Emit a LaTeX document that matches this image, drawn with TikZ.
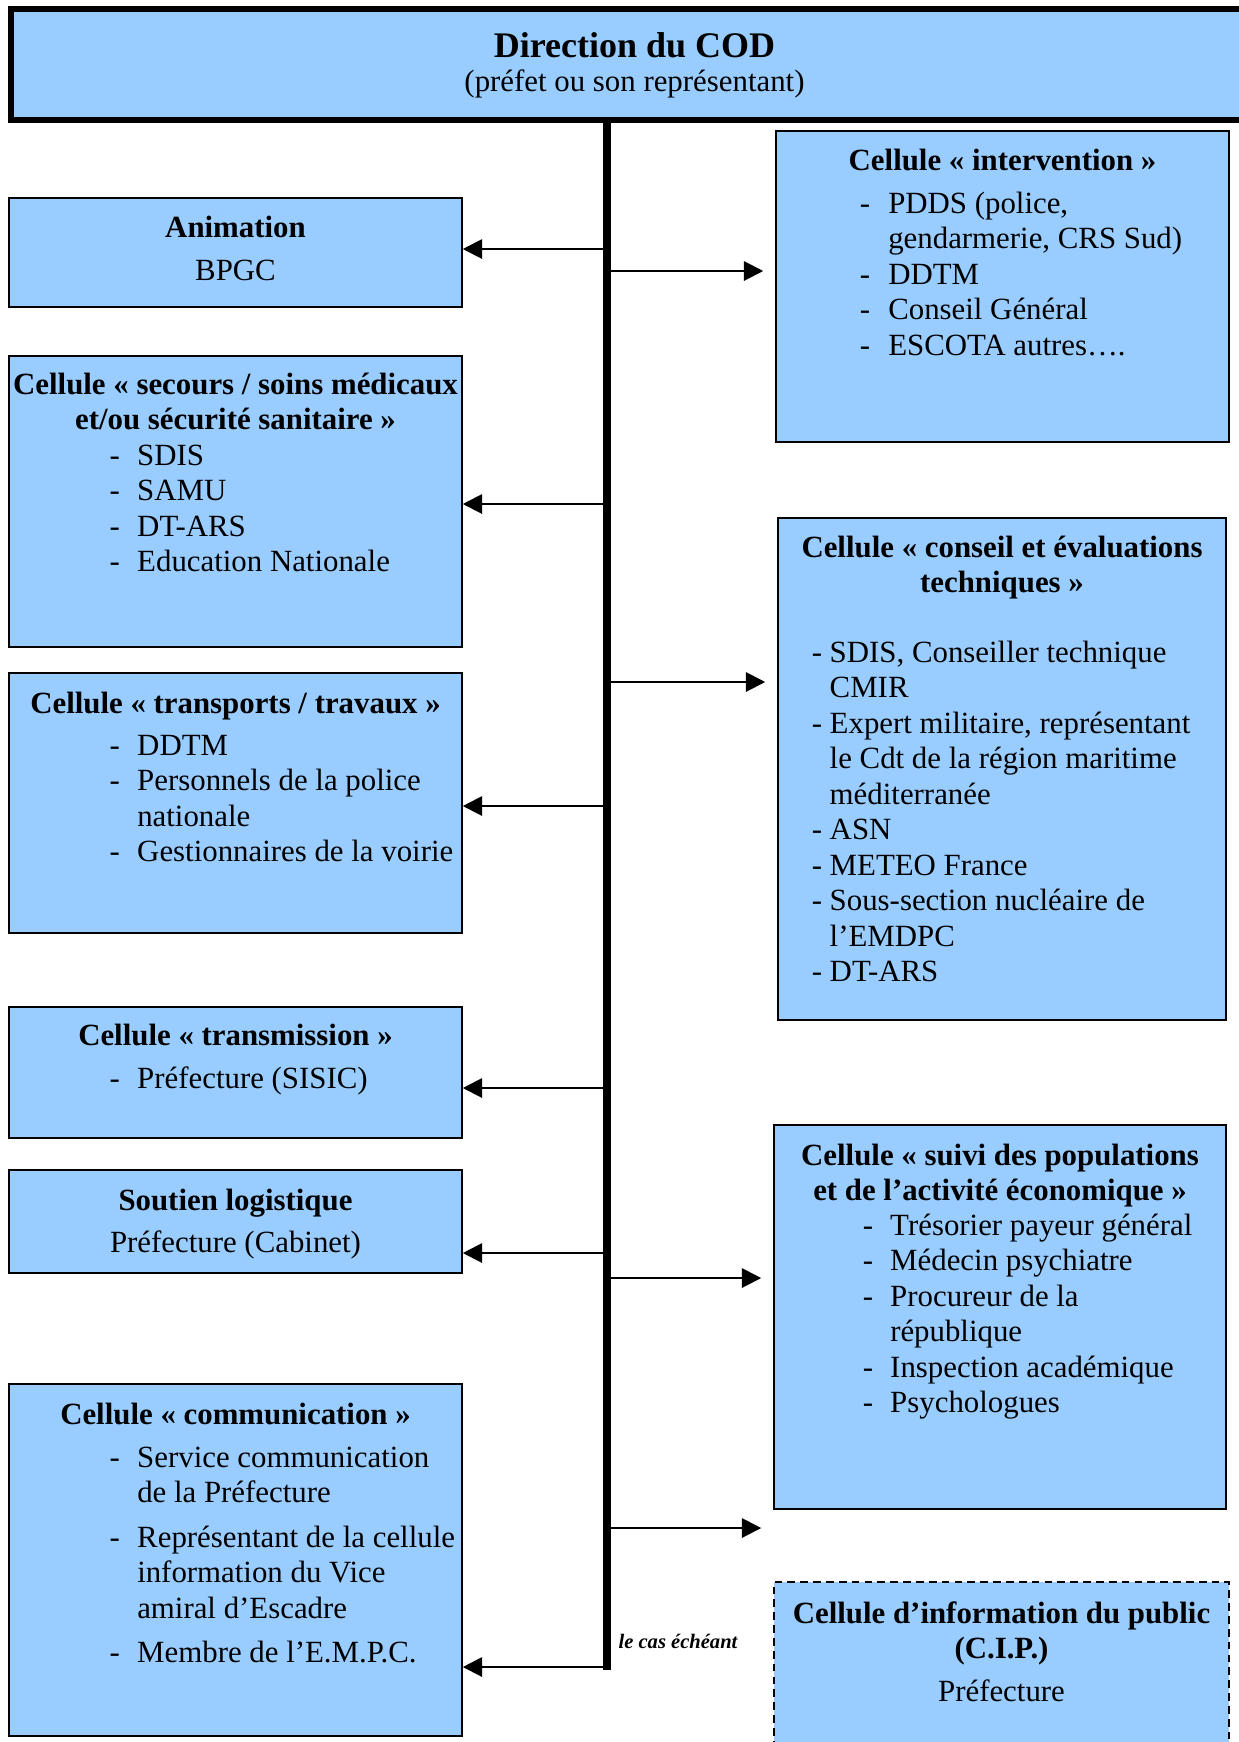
\documentclass[tikz,border=0pt]{standalone}
\usepackage{fontspec}
\setmainfont{Liberation Serif}
\usepackage{tikz}
\usetikzlibrary{arrows.meta,positioning,calc,fit}
\definecolor{cellblue}{RGB}{153,204,255}

\newcommand{\ttl}[1]{\begin{tabular}[t]{@{}c@{}}#1\end{tabular}}
\newcommand{\lst}[2]{\begin{tabular}[t]{@{}p{#1}@{}l@{}}#2\end{tabular}}

\begin{document}
\begin{tikzpicture}[x=0.389pt, y=-0.389pt,
	box/.style={draw, line width=0.6pt, fill=cellblue, inner sep=0pt},
	txt/.style={anchor=base, inner sep=0pt, font=\fontsize{12}{13.8}\selectfont},
	hd/.style={anchor=base, inner sep=0pt, font=\fontsize{12}{13.8}\selectfont\bfseries},
	items/.style={txt, anchor=base west},
	arr/.style={-{Triangle[length=7.5pt,width=7.5pt]}, line width=0.8pt}]
	\useasboundingbox (0,0) rectangle (1239,1742);
	% direction
	\node[box, line width=2pt, fit={(11,9) (1258,120)}] (cod) {};
	\node[hd, font=\fontsize{14}{16}\selectfont\bfseries] at ($(cod.north)+(0,51)$) {Direction du COD};
	\node[txt] at ($(cod.north)+(0,85)$) {(préfet ou son représentant)};
	% left column
	\node[box, fit={(9,198) (462,307)}] (anim) {};
	\node[hd] at ($(anim.north)+(0,40)$) {Animation};
	\node[txt] at ($(anim.north)+(0,83)$) {BPGC};
	\node[box, fit={(9,356) (462,647)}] (secours) {};
	\node[hd] at ($(secours.north)+(0,39)$) {\ttl{Cellule « secours / soins médicaux\\ et/ou sécurité sanitaire »}};
	\node[items] at ($(secours.north west)+(101,110)$) {\lst{10.7pt}{-&SDIS\\-&SAMU\\-&DT-ARS\\-&Education Nationale}};
	\node[box, fit={(9,673) (462,933)}] (transp) {};
	\node[hd] at ($(transp.north)+(0,41)$) {Cellule « transports / travaux »};
	\node[items] at ($(transp.north west)+(101,83)$) {\lst{10.7pt}{-&DDTM\\-&Personnels de la police\\&nationale\\-&Gestionnaires de la voirie}};
	\node[box, fit={(9,1007) (462,1138)}] (transm) {};
	\node[hd] at ($(transm.north)+(0,39)$) {Cellule « transmission »};
	\node[items] at ($(transm.north west)+(101,82)$) {\lst{10.7pt}{-&Préfecture (SISIC)}};
	\node[box, fit={(9,1170) (462,1273)}] (soutien) {};
	\node[hd] at ($(soutien.north)+(0,41)$) {Soutien logistique};
	\node[txt] at ($(soutien.north)+(0,83)$) {Préfecture (Cabinet)};
	\node[box, fit={(9,1384) (462,1736)}] (comm) {};
	\node[hd] at ($(comm.north)+(0,41)$) {Cellule « communication »};
	\node[items] at ($(comm.north west)+(101,84)$) {\lst{10.7pt}{-&Service communication\\&de la Préfecture\\[3.5pt]-&Représentant de la cellule\\&information du Vice\\&amiral d’Escadre\\[3.5pt]-&Membre de l’E.M.P.C.}};
	% right column
	\node[box, fit={(776,131) (1229,442)}] (interv) {};
	\node[hd] at ($(interv.north)+(0,40)$) {Cellule « intervention »};
	\node[items] at ($(interv.north west)+(84,83)$) {\lst{11.1pt}{-&PDDS (police,\\&gendarmerie, CRS Sud)\\-&DDTM\\-&Conseil Général\\-&ESCOTA autres….}};
	\node[box, fit={(778,518) (1226,1020)}] (conseil) {};
	\node[hd] at ($(conseil.north)+(0,40)$) {\ttl{Cellule « conseil et évaluations\\ techniques »}};
	\node[items] at ($(conseil.north west)+(34,145)$) {\lst{7pt}{-&SDIS, Conseiller technique\\&CMIR\\-&Expert militaire, représentant\\&le Cdt de la région maritime\\&méditerranée\\-&ASN\\-&METEO France\\-&Sous-section nucléaire de\\&l’EMDPC\\-&DT-ARS}};
	\node[box, fit={(774,1125) (1226,1509)}] (suivi) {};
	\node[hd] at ($(suivi.north)+(0,41)$) {\ttl{Cellule « suivi des populations\\ et de l’activité économique »}};
	\node[items] at ($(suivi.north west)+(89,111)$) {\lst{10.7pt}{-&Trésorier payeur général\\-&Médecin psychiatre\\-&Procureur de la\\&république\\-&Inspection académique\\-&Psychologues}};
	\node[box, dashed, dash pattern=on 3pt off 2pt, fit={(774,1582) (1229,1760)}] (cip) {};
	\node[hd] at ($(cip.north)+(0,42)$) {\ttl{Cellule d’information du public\\ (C.I.P.)}};
	\node[txt] at ($(cip.north)+(0,120)$) {Préfecture};
	\node[anchor=base, inner sep=0pt, font=\fontsize{8}{9}\selectfont\bfseries\itshape] (cas) at (678,1648) {le cas échéant};
	% connectors
	\foreach \y/\n in {249/anim, 504/secours, 806/transp, 1088/transm, 1253/soutien, 1667/comm}{
		\coordinate (l\n) at (607,\y);
		\draw[arr] (l\n) -- (l\n -| \n.east);}
	\foreach \y/\n in {271/interv, 682/conseil, 1278/suivi, 1528/cip}{
		\coordinate (r\n) at (607,\y);
		\draw[arr] (r\n) -- ($(r\n -| \n.west)+(-12,0)$);}
	\coordinate (tb) at (607,1670);
	\draw[line width=3pt] (cod.south -| tb) -- (tb);
\end{tikzpicture}
\end{document}
